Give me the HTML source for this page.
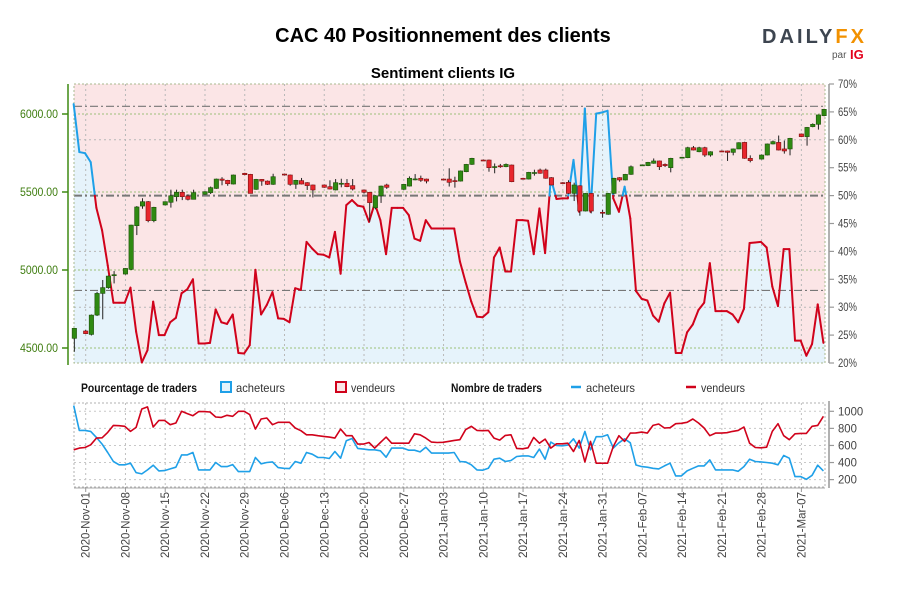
<!DOCTYPE html>
<html><head><meta charset="utf-8"><title>CAC 40 Positionnement des clients</title>
<style>
html,body{margin:0;padding:0;background:#fff;}
svg{display:block;font-family:"Liberation Sans Narrow","Liberation Sans",sans-serif;}
.t{font-family:"Liberation Sans",sans-serif;}
</style></head>
<body>
<svg id="chart" width="900" height="600" viewBox="0 0 900 600" xmlns="http://www.w3.org/2000/svg">
  <text class="t" x="443" y="42" text-anchor="middle" font-size="20" font-weight="bold" fill="#000">CAC 40 Positionnement des clients</text>
  <text class="t" x="443" y="78" text-anchor="middle" font-size="15" font-weight="bold" fill="#000">Sentiment clients IG</text>
  <g>
    <text class="t" x="762" y="43" font-size="20" font-weight="bold" fill="#3d4550" textLength="102" lengthAdjust="spacing">DAILY<tspan fill="#f29100">FX</tspan></text>
    <text class="t" x="832" y="58" font-size="10" fill="#555">par</text>
    <text class="t" x="850" y="59" font-size="13" font-weight="bold" fill="#e3001b">IG</text>
  </g>
  <g id="main"></g>
  <g id="legend">
    <text x="81" y="392" font-size="12" font-weight="bold" fill="#111" textLength="116" lengthAdjust="spacingAndGlyphs">Pourcentage de traders</text>
    <rect x="221" y="382" width="10" height="10" fill="#e6f3fb" stroke="#1fa0e8" stroke-width="2"/>
    <text x="236" y="392" font-size="12" fill="#333" textLength="49" lengthAdjust="spacingAndGlyphs">acheteurs</text>
    <rect x="336" y="382" width="10" height="10" fill="#fbe5e6" stroke="#d0021b" stroke-width="2"/>
    <text x="351" y="392" font-size="12" fill="#333" textLength="44" lengthAdjust="spacingAndGlyphs">vendeurs</text>
    <text x="451" y="392" font-size="12" font-weight="bold" fill="#111" textLength="91" lengthAdjust="spacingAndGlyphs">Nombre de traders</text>
    <line x1="571" y1="387" x2="581" y2="387" stroke="#1fa0e8" stroke-width="2.5"/>
    <text x="586" y="392" font-size="12" fill="#333" textLength="49" lengthAdjust="spacingAndGlyphs">acheteurs</text>
    <line x1="686" y1="387" x2="696" y2="387" stroke="#d0021b" stroke-width="2.5"/>
    <text x="701" y="392" font-size="12" fill="#333" textLength="44" lengthAdjust="spacingAndGlyphs">vendeurs</text>
  </g>
  <g id="bottom"></g>
</svg>
<script>
// ---------- data ----------
const startDay = -3; // day offset from 2020-Nov-01 of first sentiment sample
const pctBuyers = [66.4,57.8,57.6,56,47.8,43.8,37.5,30.8,30.8,30.8,33.5,25.6,20.1,22.3,31,25,25,27.3,28.1,32.5,33.2,35,23.5,23.5,23.6,29.6,27.3,27,28.7,21.8,21.7,23.2,36.7,28.7,30.4,32.7,28,27.9,27.3,33.4,33.1,41.7,40.5,39.5,39.4,38.9,43.5,36,48.3,49.2,48.2,48,45.3,48.6,45.6,39.5,47.8,47.8,47.8,46.5,42.3,41.9,45.6,44.1,44.1,44.1,44.1,44.1,38.2,34.5,31,28.3,28.2,29.1,38.9,40.7,36.4,36.4,45.6,45.6,45.5,39.5,47.7,39.7,53.1,49.4,49.5,49.5,56.4,47.1,65.6,47.1,64.7,64.9,65.2,49.5,47.1,51.6,45.9,32.9,31.5,31.2,28.5,27.4,30.7,32.6,21.8,21.8,25.5,26.9,29.5,30.8,37.9,29.3,29.3,29.3,28.7,27.3,29.7,41.5,41.6,41.7,40.7,33.7,30.2,40.4,40.4,24,24,21.3,23.4,30.5,23.6];
const buyersCount = [1067,776,776,765,694,616,518,412,373,373,392,282,267,314,369,302,306,325,345,490,490,518,314,314,314,400,353,353,376,294,294,294,459,385,400,408,341,333,329,412,392,518,498,459,459,447,529,451,655,682,565,557,549,549,537,463,569,569,569,545,545,525,580,510,510,510,510,518,412,408,373,314,310,333,439,451,412,424,471,478,478,459,557,439,639,600,596,604,678,569,765,549,702,702,725,569,631,678,631,371,353,345,333,325,361,392,243,243,302,333,361,361,431,314,314,314,314,298,353,439,412,408,400,392,373,482,451,235,235,204,251,369,302];
const sellersCount = [549,569,576,608,686,690,753,835,831,824,765,812,1027,1051,816,894,894,843,863,1000,973,949,996,996,992,933,929,953,941,1000,1000,961,792,910,922,843,871,871,871,804,773,725,725,714,706,698,686,792,714,714,616,616,635,569,635,698,627,627,627,627,737,725,686,639,635,637,647,659,667,784,824,776,773,776,686,663,718,725,565,561,573,694,627,675,569,620,620,627,529,659,408,647,392,392,392,588,714,647,745,747,757,745,835,851,804,808,855,859,871,910,863,804,714,745,745,749,765,776,816,627,576,573,580,765,855,714,667,737,741,741,824,835,941];
const candleDays = [-2,0,1,2,3,4,5,7,8,9,10,11,12,14,15,16,17,18,19,21,22,23,24,25,26,28,29,30,31,32,33,35,36,37,38,39,40,42,43,44,45,46,47,49,50,51,52,53,56,57,58,59,60,63,64,65,66,67,68,70,71,72,73,74,75,77,78,79,80,81,82,84,85,86,87,88,89,91,92,93,94,95,96,98,99,100,101,102,103,105,106,107,108,109,110,112,113,114,115,116,117,119,120,121,122,123,124,126,127,128,129,130];
const candleOpen = [4562,4609,4587,4711,4850,4887,4968,4974,5004,5284,5410,5438,5316,5417,5434,5470,5498,5474,5453,5485,5496,5523,5583,5575,5551,5620,5613,5517,5581,5570,5549,5615,5609,5549,5573,5560,5545,5545,5534,5513,5552,5556,5541,5513,5498,5399,5476,5545,5517,5538,5583,5588,5583,5583,5583,5573,5570,5630,5677,5705,5705,5662,5668,5662,5673,5588,5583,5624,5641,5641,5592,5560,5562,5491,5540,5378,5491,5370,5357,5491,5592,5577,5613,5673,5669,5684,5699,5677,5656,5722,5720,5784,5758,5784,5737,5763,5763,5754,5776,5818,5716,5711,5737,5808,5818,5776,5776,5872,5855,5919,5934,5989];
const candleHigh = [4626,4615,4715,4860,4936,4965,4993,5012,5290,5410,5460,5442,5405,5440,5515,5515,5515,5485,5515,5505,5535,5586,5595,5578,5612,5623,5616,5584,5583,5574,5617,5618,5612,5578,5590,5563,5548,5548,5575,5583,5585,5583,5583,5515,5501,5480,5541,5553,5552,5600,5615,5605,5586,5586,5652,5598,5638,5680,5719,5708,5708,5683,5680,5683,5676,5591,5629,5643,5650,5650,5595,5563,5575,5560,5543,5494,5494,5385,5494,5591,5595,5616,5670,5676,5693,5715,5702,5683,5719,5725,5790,5795,5790,5790,5761,5766,5766,5779,5819,5822,5735,5740,5811,5830,5862,5830,5847,5875,5917,5940,5997,6033];
const candleLow = [4476,4590,4580,4705,4684,4880,4914,4970,5000,5224,5393,5306,5306,5414,5400,5440,5448,5446,5453,5482,5487,5520,5543,5540,5548,5608,5491,5514,5540,5545,5546,5606,5540,5520,5548,5513,5465,5527,5516,5510,5530,5531,5510,5490,5310,5389,5430,5520,5514,5535,5575,5565,5555,5578,5535,5528,5567,5627,5674,5702,5630,5620,5655,5659,5563,5585,5580,5605,5617,5585,5542,5557,5488,5442,5348,5375,5363,5335,5354,5488,5566,5574,5610,5670,5666,5681,5641,5660,5626,5719,5717,5766,5755,5725,5727,5760,5699,5735,5775,5713,5690,5708,5734,5805,5766,5746,5735,5852,5797,5915,5900,5986];
const candleClose = [4626,4592,4711,4850,4887,4961,4970,5010,5288,5404,5438,5316,5402,5438,5476,5498,5470,5453,5496,5502,5528,5583,5575,5553,5609,5611,5491,5581,5570,5549,5598,5609,5549,5575,5551,5541,5513,5530,5519,5560,5556,5534,5519,5498,5432,5476,5538,5530,5549,5588,5584,5575,5570,5581,5562,5570,5635,5677,5716,5704,5656,5663,5667,5677,5566,5587,5626,5625,5620,5588,5545,5559,5491,5545,5378,5491,5378,5365,5491,5588,5577,5613,5662,5674,5690,5699,5662,5669,5716,5723,5784,5769,5784,5737,5758,5762,5754,5776,5816,5716,5701,5737,5808,5823,5769,5763,5844,5855,5914,5934,5994,6030];
const pctTicks = [70,65,60,55,50,45,40,35,30,25,20];
const priceTicks = [6000,5500,5000,4500];
const countTicks = [1000,800,600,400,200];
const dateTickDays = [0,7,14,21,28,35,42,49,56,63,70,77,84,91,98,105,112,119,126];
const dateTickLabels = ["2020-Nov-01","2020-Nov-08","2020-Nov-15","2020-Nov-22","2020-Nov-29","2020-Dec-06","2020-Dec-13","2020-Dec-20","2020-Dec-27","2021-Jan-03","2021-Jan-10","2021-Jan-17","2021-Jan-24","2021-Jan-31","2021-Feb-07","2021-Feb-14","2021-Feb-21","2021-Feb-28","2021-Mar-07"];
const refLevels = [66,50,33];

// ---------- scales ----------
const L=74, R=825, T=84, B=363, BT=403, BB=487;
const SAMPLE_OFF = 0.88;
function xDay(d){ return 85.7 + 5.68*d; }
function yPct(p){ return T + (70-p)*(B-T)/50; }
function yPrice(v){ return 114 + (6000-v)*0.156; }
function yCnt(v){ return 411.3 + (1000-v)*0.0854; }

const NS="http://www.w3.org/2000/svg";
function mk(tag, parent, attrs){ const e=document.createElementNS(NS,tag); for(const k in attrs) e.setAttribute(k,attrs[k]); parent.appendChild(e); return e; }
const main=document.getElementById('main'), bottom=document.getElementById('bottom');
const RED="#d0021b", BLUE="#1fa0e8";

// ---------- main background & fill ----------
let e = mk('rect', main, {x:L,y:T,width:R-L,height:B-T,fill:"#fbe5e6"});


let pts = [];
pctBuyers.forEach((p,i)=>{ pts.push(xDay(startDay+i+SAMPLE_OFF).toFixed(1)+","+yPct(p).toFixed(1)); });
e = mk('polygon', main, {points: L+","+B+" "+L+","+yPct(pctBuyers[0]).toFixed(1)+" "+pts.join(" ")+" "+R+","+yPct(pctBuyers[pctBuyers.length-1]).toFixed(1)+" "+R+","+B, fill:"#e6f3fb"});



dateTickDays.forEach((d)=>{
  const g = mk('line', main, {x1:xDay(d),x2:xDay(d),y1:T,y2:B,stroke:"#b8b8b8","stroke-dasharray":"2,3","stroke-width":1});
  
  
});
[60,40,30].forEach((p)=>{
  const g = mk('line', main, {x1:L,x2:R,y1:yPct(p),y2:yPct(p),stroke:"#b8b8b8","stroke-dasharray":"2,3","stroke-width":1});
  
  
});
priceTicks.forEach((v)=>{
  const g = mk('line', main, {x1:L,x2:R,y1:yPrice(v),y2:yPrice(v),stroke:"#9cc07a","stroke-dasharray":"2,2","stroke-width":1});
  
  
});
refLevels.forEach((p)=>{
  const g = mk('line', main, {x1:L,x2:R,y1:yPct(p),y2:yPct(p),stroke:"#777","stroke-dasharray":"8,3,2,3","stroke-width":p===50?2:1.2});
  
  
});
e = mk('rect', main, {x:L,y:T,width:R-L,height:B-T,fill:"none",stroke:"#a9b98f","stroke-dasharray":"2,2","stroke-width":1});



// ---------- sentiment line ----------
for(let i=0;i<pctBuyers.length-1;i++){
  const p0=pctBuyers[i], p1=pctBuyers[i+1];
  const x0=xDay(startDay+i+SAMPLE_OFF), x1=xDay(startDay+i+1+SAMPLE_OFF);
  const segs=[];
  if((p0-50)*(p1-50)<0){
    const f=(50-p0)/(p1-p0), xm=x0+f*(x1-x0);
    segs.push([x0,p0,xm,50,p0>50?BLUE:RED]); segs.push([xm,50,x1,p1,p1>50?BLUE:RED]);
  } else segs.push([x0,p0,x1,p1,(p0+p1)/2>50?BLUE:RED]);
  segs.forEach(s=>{
    const ln = mk('line', main, {x1:s[0],y1:yPct(s[1]),x2:s[2],y2:yPct(s[3]),stroke:s[4],"stroke-width":2,"stroke-linecap":"round"});
    
    
  });
}

// ---------- candles ----------
candleDays.forEach((d,i)=>{
  const o=candleOpen[i], c=candleClose[i], h=candleHigh[i], l=candleLow[i];
  const x=xDay(d), up=c>=o;
  const w = mk('line', main, {x1:x,x2:x,y1:yPrice(h),y2:yPrice(l),stroke:"#222","stroke-width":1});
  
  
  const top=yPrice(Math.max(o,c)), bot=yPrice(Math.min(o,c));
  const b = mk('rect', main, {x:x-2.2,y:top,width:4.4,height:Math.max(1,bot-top),fill:up?"#2f8a12":"#e8262d",stroke:up?"#1d4f0a":"#7a1010","stroke-width":0.6});
  
  
});

// ---------- axes main ----------
e = mk('line', main, {x1:68,x2:68,y1:T,y2:B+2,stroke:"#3f8a12","stroke-width":1.5});


priceTicks.forEach((v)=>{
  const tk = mk('line', main, {x1:62,x2:68,y1:yPrice(v),y2:yPrice(v),stroke:"#3f8a12","stroke-width":1.5});
  
  
  const tx = mk('text', main, {x:20,y:yPrice(v)+4,"font-size":12,fill:"#3f7d10",textLength:38,lengthAdjust:"spacingAndGlyphs"});
  tx.textContent = v.toFixed(2);
  
  
});
e = mk('line', main, {x1:829,x2:829,y1:T,y2:B,stroke:"#999","stroke-width":1.5});


pctTicks.forEach((p)=>{
  const tk = mk('line', main, {x1:829,x2:834,y1:yPct(p),y2:yPct(p),stroke:"#999","stroke-width":1.2});
  
  
  const tx = mk('text', main, {x:838,y:yPct(p)+4,"font-size":12,fill:"#444",textLength:19,lengthAdjust:"spacingAndGlyphs"});
  tx.textContent = p+"%";
  
  
});

// ---------- bottom panel ----------
dateTickDays.forEach((d)=>{
  const g = mk('line', bottom, {x1:xDay(d),x2:xDay(d),y1:BT,y2:BB,stroke:"#c0c0c0","stroke-dasharray":"2,3","stroke-width":1});
  
  
});
countTicks.forEach((v)=>{
  const g = mk('line', bottom, {x1:L,x2:R,y1:yCnt(v),y2:yCnt(v),stroke:"#c8c8c8","stroke-dasharray":"2,3","stroke-width":1});
  
  
});
e = mk('rect', bottom, {x:L,y:BT,width:R-L,height:BB-BT,fill:"none",stroke:"#b0b0b0","stroke-dasharray":"2,2","stroke-width":1});


function seriesPath(arr){ return arr.map((v,i)=>(i?"L":"M")+xDay(startDay+i+SAMPLE_OFF).toFixed(1)+","+yCnt(v).toFixed(1)).join(""); }
e = mk('path', bottom, {d:seriesPath(buyersCount),fill:"none",stroke:BLUE,"stroke-width":1.6,"stroke-linejoin":"round"});


e = mk('path', bottom, {d:seriesPath(sellersCount),fill:"none",stroke:RED,"stroke-width":1.6,"stroke-linejoin":"round"});


e = mk('line', bottom, {x1:829,x2:829,y1:BT-2,y2:BB+1,stroke:"#999","stroke-width":1.5});


countTicks.forEach((v)=>{
  const tk = mk('line', bottom, {x1:829,x2:834,y1:yCnt(v),y2:yCnt(v),stroke:"#999","stroke-width":1.2});
  
  
  const tx = mk('text', bottom, {x:838,y:yCnt(v)+4,"font-size":12,fill:"#444",textLength:(String(v).length*6.3),lengthAdjust:"spacingAndGlyphs"});
  tx.textContent = String(v);
  
  
});
e = mk('line', bottom, {x1:L,x2:R,y1:BB+1,y2:BB+1,stroke:"#aaa","stroke-width":1});


dateTickDays.forEach((d,i)=>{
  const x=xDay(d);
  const tk = mk('line', bottom, {x1:x,x2:x,y1:BB,y2:BB+5,stroke:"#999","stroke-width":1});
  
  
  const tx = mk('text', bottom, {x:0,y:0,"font-size":12,fill:"#444","text-anchor":"end",transform:"translate("+(x+4)+",492) rotate(-90)",textLength:66,lengthAdjust:"spacingAndGlyphs"});
  tx.textContent = dateTickLabels[i];
  
  
});
</script>
</body></html>
